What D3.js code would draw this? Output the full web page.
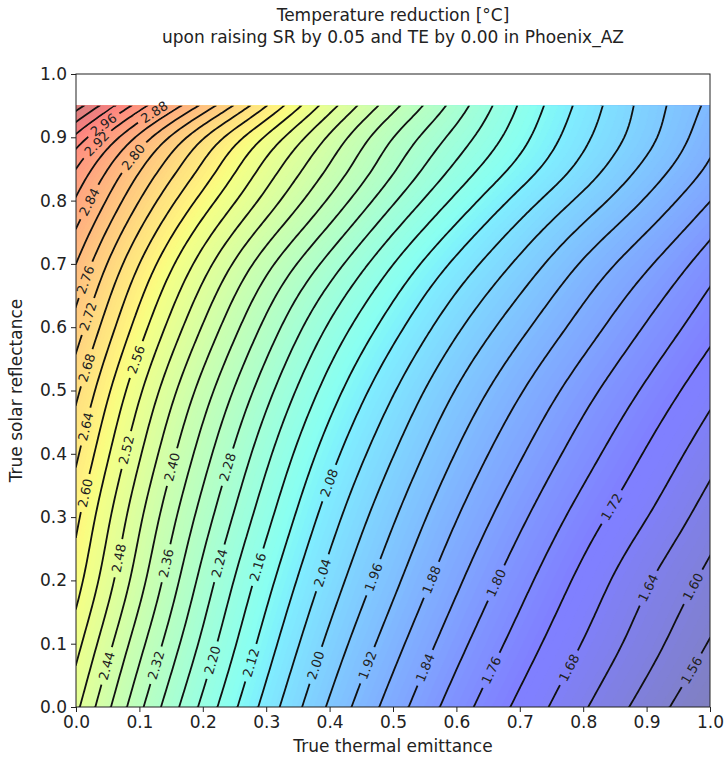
<!DOCTYPE html>
<html>
<head>
<meta charset="utf-8">
<script src="https://cdn.jsdelivr.net/npm/d3@7"></script>
<style>
  body { margin: 0; background: #fff; }
  text { font-family: "DejaVu Sans", sans-serif; fill: #222; }
</style>
</head>
<body>
<svg id="chart" width="727" height="761"></svg>
<script>
// grid of the surface: thermal emittance (columns) x solar reflectance (rows)
const emittance = [0, 0.1, 0.2, 0.3, 0.4, 0.5, 0.6, 0.7, 0.8, 0.9, 1.0];
const reflectance = [0, 0.1, 0.2, 0.3, 0.4, 0.5, 0.6, 0.7, 0.8, 0.85, 0.9, 0.95];

// temperature reduction [°C], one row per reflectance value
const reduction = [
  [2.490, 2.330, 2.190, 2.065, 1.954, 1.861, 1.780, 1.710, 1.645, 1.583, 1.520],
  [2.535, 2.374, 2.230, 2.101, 1.989, 1.896, 1.814, 1.743, 1.678, 1.617, 1.557],
  [2.578, 2.416, 2.266, 2.136, 2.024, 1.931, 1.848, 1.775, 1.708, 1.645, 1.588],
  [2.610, 2.448, 2.302, 2.173, 2.059, 1.965, 1.882, 1.809, 1.742, 1.681, 1.620],
  [2.648, 2.485, 2.340, 2.211, 2.097, 2.002, 1.918, 1.845, 1.778, 1.716, 1.655],
  [2.690, 2.527, 2.383, 2.255, 2.141, 2.044, 1.958, 1.884, 1.816, 1.753, 1.692],
  [2.742, 2.580, 2.437, 2.308, 2.194, 2.096, 2.008, 1.932, 1.862, 1.796, 1.733],
  [2.800, 2.640, 2.500, 2.375, 2.264, 2.161, 2.070, 1.990, 1.915, 1.847, 1.778],
  [2.875, 2.720, 2.585, 2.465, 2.354, 2.246, 2.150, 2.065, 1.988, 1.915, 1.841],
  [2.920, 2.765, 2.630, 2.505, 2.394, 2.286, 2.190, 2.105, 2.025, 1.948, 1.872],
  [2.990, 2.830, 2.685, 2.555, 2.434, 2.321, 2.225, 2.135, 2.050, 1.973, 1.893],
  [3.100, 2.940, 2.790, 2.642, 2.497, 2.373, 2.262, 2.156, 2.066, 1.984, 1.910]
];

// contour levels drawn as black lines
const levels = [1.52, 1.56, 1.60, 1.64, 1.68, 1.72, 1.76, 1.80, 1.84, 1.88, 1.92, 1.96,
  2.00, 2.04, 2.08, 2.12, 2.16, 2.20, 2.24, 2.28, 2.32, 2.36, 2.40, 2.44, 2.48, 2.52,
  2.56, 2.60, 2.64, 2.68, 2.72, 2.76, 2.80, 2.84, 2.88, 2.92, 2.96, 3.00, 3.04, 3.08];

// colour range of the filled surface
const colorRange = [1.52, 3.16];

// inline labels: [level, emittance, reflectance] where they sit on the plot
const labelSpots = [
  [2.44, 0.043, 0.065], [2.32, 0.117, 0.066], [2.20, 0.209, 0.074], [2.12, 0.272, 0.070],
  [2.00, 0.372, 0.066], [1.92, 0.458, 0.066], [1.84, 0.550, 0.062], [1.76, 0.661, 0.058],
  [1.68, 0.769, 0.062], [1.56, 0.974, 0.058],
  [2.48, 0.062, 0.235], [2.36, 0.136, 0.227], [2.24, 0.211, 0.227], [2.16, 0.274, 0.221],
  [2.04, 0.385, 0.212], [1.96, 0.468, 0.205], [1.88, 0.558, 0.201], [1.80, 0.661, 0.196],
  [1.64, 0.897, 0.188], [1.60, 0.968, 0.190],
  [2.60, 0.011, 0.338], [2.52, 0.085, 0.406], [2.40, 0.148, 0.379], [2.28, 0.240, 0.379],
  [2.08, 0.397, 0.354], [1.72, 0.839, 0.316], [2.64, 0.014, 0.443], [2.68, 0.017, 0.536],
  [2.56, 0.090, 0.549], [2.72, 0.025, 0.617], [2.76, 0.006, 0.675], [2.84, 0.019, 0.798],
  [2.80, 0.085, 0.869], [2.92, 0.027, 0.890], [2.96, 0.042, 0.920], [2.88, 0.137, 0.940]
];

const xTicks = [0, 0.1, 0.2, 0.3, 0.4, 0.5, 0.6, 0.7, 0.8, 0.9, 1.0];
const yTicks = [0, 0.1, 0.2, 0.3, 0.4, 0.5, 0.6, 0.7, 0.8, 0.9, 1.0];

const svg = d3.select("#chart");
const x = d3.scaleLinear().domain([0, 1]).range([76, 710]);
const y = d3.scaleLinear().domain([0, 1]).range([707, 74]);
const srTop = reflectance[reflectance.length - 1];

// natural cubic spline through the read values (smooth rendering only)
function spline(xs, ys) {
  const n = xs.length, h = [], al = [], l = [1], mu = [0], z = [0];
  const b = [], c = new Array(n).fill(0), d = [];
  for (let i = 0; i < n - 1; i++) h[i] = xs[i + 1] - xs[i];
  for (let i = 1; i < n - 1; i++) {
    al[i] = 3 / h[i] * (ys[i + 1] - ys[i]) - 3 / h[i - 1] * (ys[i] - ys[i - 1]);
    l[i] = 2 * (xs[i + 1] - xs[i - 1]) - h[i - 1] * mu[i - 1];
    mu[i] = h[i] / l[i];
    z[i] = (al[i] - h[i - 1] * z[i - 1]) / l[i];
  }
  for (let j = n - 2; j >= 0; j--) {
    c[j] = z[j] - mu[j] * c[j + 1];
    b[j] = (ys[j + 1] - ys[j]) / h[j] - h[j] * (c[j + 1] + 2 * c[j]) / 3;
    d[j] = (c[j + 1] - c[j]) / (3 * h[j]);
  }
  return v => {
    const i = Math.max(0, Math.min(n - 2, d3.bisectRight(xs, v) - 1));
    const t = v - xs[i];
    return ys[i] + b[i] * t + c[i] * t * t + d[i] * t * t * t;
  };
}

// fine raster of the surface for d3.contours
const nx = 161, ny = 153;
const colFns = emittance.map((_, i) => spline(reflectance, reduction.map(r => r[i])));
const grid = new Float64Array(nx * ny);
for (let j = 0; j < ny; j++) {
  const sr = srTop * j / (ny - 1);
  const rowFn = spline(emittance, colFns.map(f => f(sr)));
  for (let i = 0; i < nx; i++) grid[j * nx + i] = rowFn(i / (nx - 1));
}

function valueAt(te, sr) {
  const fx = te * (nx - 1), fy = sr / srTop * (ny - 1);
  const i = Math.max(0, Math.min(nx - 2, Math.floor(fx)));
  const j = Math.max(0, Math.min(ny - 2, Math.floor(fy)));
  const u = fx - i, v = fy - j, g = (a, b) => grid[b * nx + a];
  return (1 - u) * (1 - v) * g(i, j) + u * (1 - v) * g(i + 1, j) +
         (1 - u) * v * g(i, j + 1) + u * v * g(i + 1, j + 1);
}

const proj = d3.geoTransform({
  point(px, py) {
    this.stream.point(x((px - 0.5) / (nx - 1)), y(srTop * (py - 0.5) / (ny - 1)));
  }
});
const path = d3.geoPath(proj);

// jet colormap blended 50% with white
const jetR = d3.scaleLinear().domain([0, 0.35, 0.66, 0.89, 1]).range([0, 0, 1, 1, 0.5]).clamp(true);
const jetG = d3.scaleLinear().domain([0, 0.125, 0.375, 0.64, 0.91, 1]).range([0, 0, 1, 1, 0, 0]).clamp(true);
const jetB = d3.scaleLinear().domain([0, 0.11, 0.34, 0.65, 1]).range([0.5, 1, 1, 0, 0]).clamp(true);
const norm = d3.scaleLinear().domain(colorRange).clamp(true);
const alpha = 0.5;
const color = v => {
  const t = norm(v), k = ch => Math.round(255 * (1 - alpha + alpha * ch));
  return d3.rgb(k(jetR(t)), k(jetG(t)), k(jetB(t))).toString();
};

const defs = svg.append("defs");
defs.append("clipPath").attr("id", "dataClip").append("rect")
  .attr("x", x(0)).attr("y", y(srTop))
  .attr("width", x(1) - x(0)).attr("height", y(0) - y(srTop));

// filled colour surface
const fillStep = 0.01;
const fillThresholds = d3.range(Math.floor(d3.min(grid) / fillStep) * fillStep, d3.max(grid), fillStep);
svg.append("g").attr("clip-path", "url(#dataClip)")
  .selectAll("path")
  .data(d3.contours().size([nx, ny]).thresholds(fillThresholds)(grid))
  .join("path")
  .attr("d", path)
  .attr("fill", d => color(d.value + fillStep / 2))
  .attr("stroke", d => color(d.value + fillStep / 2))
  .attr("stroke-width", 0.6);

// contour labels
const labelG = svg.append("g");
const gaps = [];
labelSpots.forEach(([lev, te0, sr0]) => {
  let te = null, sr = sr0;
  for (let t = Math.max(0.002, te0 - 0.1); t < Math.min(0.998, te0 + 0.1); t += 0.002) {
    const a = valueAt(t, sr0) - lev, b = valueAt(t + 0.002, sr0) - lev;
    if (a * b <= 0 && a !== b) {
      const c = t + 0.002 * a / (a - b);
      if (te === null || Math.abs(c - te0) < Math.abs(te - te0)) te = c;
    }
  }
  if (te === null) {
    for (let s = Math.max(0.002, sr0 - 0.1); s < Math.min(srTop - 0.002, sr0 + 0.1); s += 0.002) {
      const a = valueAt(te0, s) - lev, b = valueAt(te0, s + 0.002) - lev;
      if (a * b <= 0 && a !== b) {
        const c = s + 0.002 * a / (a - b);
        if (te === null || Math.abs(c - sr0) < Math.abs(sr - sr0)) { te = te0; sr = c; }
      }
    }
  }
  if (te === null) return;
  const e = 0.004;
  const gx = (valueAt(te + e, sr) - valueAt(te - e, sr)) / (2 * e) / (x(1) - x(0));
  const gy = (valueAt(te, sr + e) - valueAt(te, sr - e)) / (2 * e) / (y(1) - y(0));
  let ang = Math.atan2(gx, -gy) * 180 / Math.PI;
  if (ang > 90) ang -= 180;
  if (ang < -90) ang += 180;
  const px = x(te), py = y(sr);
  const t = labelG.append("text")
    .attr("transform", `translate(${px},${py}) rotate(${ang})`)
    .attr("text-anchor", "middle")
    .attr("dy", "0.36em")
    .style("font-size", "13px")
    .text(lev.toFixed(2));
  gaps.push({ px, py, ang, w: t.node().getComputedTextLength() + 10 });
});

const mask = defs.append("mask").attr("id", "labelGaps")
  .attr("maskUnits", "userSpaceOnUse")
  .attr("x", 0).attr("y", 0).attr("width", 727).attr("height", 761);
mask.append("rect").attr("width", 727).attr("height", 761).attr("fill", "white");
mask.selectAll("rect.gap").data(gaps).join("rect")
  .attr("class", "gap")
  .attr("x", d => -d.w / 2).attr("y", -8).attr("width", d => d.w).attr("height", 16)
  .attr("transform", d => `translate(${d.px},${d.py}) rotate(${d.ang})`)
  .attr("fill", "black");

// contour lines
svg.append("g").attr("clip-path", "url(#dataClip)")
  .append("g").attr("mask", "url(#labelGaps)")
  .selectAll("path")
  .data(d3.contours().size([nx, ny]).thresholds(levels)(grid))
  .join("path")
  .attr("d", path)
  .attr("fill", "none")
  .attr("stroke", "#111")
  .attr("stroke-width", 1.8);

labelG.raise();

// axes and frame
const xAxis = svg.append("g").attr("transform", `translate(0,${y(0)})`)
  .call(d3.axisBottom(x).tickValues(xTicks).tickFormat(d3.format(".1f")).tickSize(5).tickPadding(4));
const yAxis = svg.append("g").attr("transform", `translate(${x(0)},0)`)
  .call(d3.axisLeft(y).tickValues(yTicks).tickFormat(d3.format(".1f")).tickSize(5).tickPadding(4));
[xAxis, yAxis].forEach(a => {
  a.select(".domain").remove();
  a.selectAll("text").style("font-size", "17px").attr("fill", "#222");
  a.selectAll("line").attr("stroke", "#222");
});

svg.append("rect")
  .attr("x", x(0)).attr("y", y(1))
  .attr("width", x(1) - x(0)).attr("height", y(0) - y(1))
  .attr("fill", "none").attr("stroke", "#222").attr("stroke-width", 1);

svg.append("text").attr("x", (x(0) + x(1)) / 2).attr("y", 752)
  .attr("text-anchor", "middle").style("font-size", "17px")
  .text("True thermal emittance");
svg.append("text")
  .attr("transform", `translate(22,${(y(0) + y(1)) / 2}) rotate(-90)`)
  .attr("text-anchor", "middle").style("font-size", "17px")
  .text("True solar reflectance");

svg.append("text").attr("x", (x(0) + x(1)) / 2).attr("y", 21)
  .attr("text-anchor", "middle").style("font-size", "17px")
  .text("Temperature reduction [°C]");
svg.append("text").attr("x", (x(0) + x(1)) / 2).attr("y", 43)
  .attr("text-anchor", "middle").style("font-size", "17px")
  .text("upon raising SR by 0.05 and TE by 0.00 in Phoenix_AZ");
</script>
</body>
</html>
